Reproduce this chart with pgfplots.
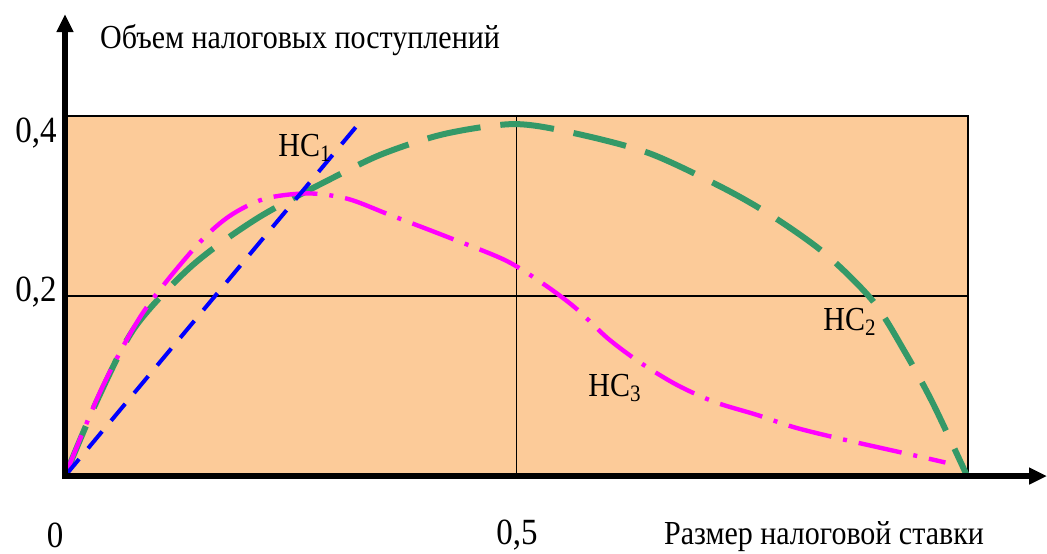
\documentclass[border=0pt]{standalone}
\usepackage{fontspec}
\setmainfont{Liberation Serif}
\usepackage{pgfplots}
\pgfplotsset{compat=1.18}
\usetikzlibrary{arrows.meta}
\definecolor{bgorange}{RGB}{252,203,153}
\definecolor{nsgreen}{RGB}{52,153,104}
\definecolor{nsmag}{RGB}{255,0,255}
\definecolor{nsblue}{RGB}{0,0,255}

\begin{document}
\begin{tikzpicture}[x=1pt,y=1pt,
  lbl/.style={yscale=1.12, transform shape, font=\fontsize{15}{17}\selectfont},
  num/.style={yscale=1.12, transform shape, font=\fontsize{16.5}{18}\selectfont}]
\useasboundingbox (-32.5,-38.5) rectangle (491,238);
\begin{axis}[
  at={(0,0)}, anchor=south west,
  scale only axis, width=451.5pt, height=180pt,
  xmin=0, xmax=1, ymin=0, ymax=0.4,
  axis background/.style={fill=bgorange},
  axis line style={black, line width=0.8pt},
  xtick={0.5}, ytick={0.2},
  xticklabels={}, yticklabels={},
  major tick length=0pt,
  grid=major, grid style={black, line width=0.6pt},
  clip=false,
]
% HC2
\addplot[nsgreen, line width=3pt, smooth, dash pattern=on 27pt off 10pt]
  coordinates {(0,0) (0.037,0.087) (0.078,0.166) (0.141,0.234) (0.214,0.287)
  (0.296,0.331) (0.352,0.358) (0.42,0.38) (0.496,0.391) (0.559,0.382)
  (0.646,0.359) (0.729,0.320) (0.786,0.287) (0.843,0.246) (0.895,0.194)
  (0.930,0.138) (0.961,0.081) (0.999,0)};
% HC3
\addplot[nsmag, line width=2.2pt, smooth, dash pattern=on 22pt off 6pt on 2pt off 6pt]
  coordinates {(0,0) (0.041,0.098) (0.086,0.181) (0.144,0.254) (0.181,0.288)
  (0.221,0.308) (0.269,0.314) (0.313,0.308) (0.360,0.290) (0.42,0.267)
  (0.487,0.240) (0.529,0.214) (0.565,0.187) (0.601,0.153) (0.637,0.126)
  (0.678,0.101) (0.720,0.082) (0.766,0.068) (0.808,0.054) (0.856,0.042)
  (0.900,0.032) (0.949,0.021) (0.975,0.015)};
% HC1
\addplot[nsblue, line width=2pt, dash pattern=on 11pt off 7pt]
  coordinates {(0,0) (0.324,0.39)};
\end{axis}
\draw[line width=3pt, -{Triangle[length=9pt,width=8pt]}] (0,-1.5) -- (0,231);
\draw[line width=3pt, -{Triangle[length=9pt,width=8pt]}] (-1.5,0) -- (491,0);
\node[num] at (-14.5,171.5) {0,4};
\node[num] at (-14.5,92) {0,2};
\node[num] at (-5,-29.5) {0};
\node[num] at (226,-29.5) {0,5};
\node[lbl] at (379.5,-30.5) {Размер налоговой ставки};
\node[lbl] at (117.5,218) {Объем налоговых поступлений};
\node[lbl] at (120,164) {НС\textsubscript{1}};
\node[lbl] at (392.5,77) {НС\textsubscript{2}};
\node[lbl] at (275,44) {НС\textsubscript{3}};
\end{tikzpicture}
\end{document}
